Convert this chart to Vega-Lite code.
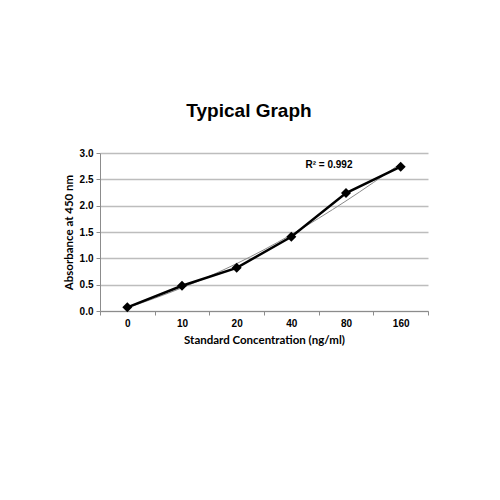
{
  "$schema": "https://vega.github.io/schema/vega-lite/v6.json",
  "autosize": "none",
  "padding": {"left": 100, "top": 153, "right": 72, "bottom": 189},
  "width": 328,
  "height": 158,
  "title": {
    "text": "Typical Graph",
    "font": "Liberation Sans",
    "fontSize": 19,
    "fontWeight": "bold",
    "color": "#000000",
    "frame": "group",
    "baseline": "alphabetic",
    "offset": 12,
    "dx": -15
  },
  "datasets": {
    "standards": [
      {"conc": "0", "absorbance": 0.07, "fit": 0.06},
      {"conc": "10", "absorbance": 0.48, "fit": 0.44},
      {"conc": "20", "absorbance": 0.82, "fit": 0.9},
      {"conc": "40", "absorbance": 1.41, "fit": 1.45},
      {"conc": "80", "absorbance": 2.24, "fit": 2.09},
      {"conc": "160", "absorbance": 2.74, "fit": 2.8}
    ],
    "note": [
      {"label": "R² = 0.992"}
    ]
  },
  "data": {"name": "standards"},
  "encoding": {
    "x": {
      "field": "conc",
      "type": "ordinal",
      "sort": null,
      "scale": {"paddingInner": 0, "paddingOuter": 0},
      "axis": {
        "title": "Standard Concentration (ng/ml)",
        "labelAngle": 0,
        "tickBand": "extent",
        "grid": false,
        "titlePadding": 6
      }
    }
  },
  "layer": [
    {
      "mark": {"type": "line", "color": "#8a8a8a", "strokeWidth": 1, "interpolate": "monotone"},
      "encoding": {
        "y": {
          "field": "fit",
          "type": "quantitative",
          "scale": {"domain": [0, 3]},
          "axis": {"title": "Absorbance at 450 nm"}
        }
      }
    },
    {
      "mark": {"type": "line", "color": "#000000", "strokeWidth": 2.5},
      "encoding": {
        "y": {"field": "absorbance", "type": "quantitative"}
      }
    },
    {
      "mark": {"type": "point", "shape": "diamond", "filled": true, "color": "#000000", "size": 100, "opacity": 1},
      "encoding": {
        "y": {"field": "absorbance", "type": "quantitative"}
      }
    },
    {
      "data": {"name": "note"},
      "mark": {"type": "text", "font": "Liberation Sans", "fontSize": 10, "fontWeight": "bold", "color": "#000000", "dx": -17},
      "encoding": {
        "x": {"datum": "80"},
        "y": {"datum": 2.77},
        "text": {"field": "label"}
      }
    }
  ],
  "config": {
    "view": {"stroke": null},
    "axis": {
      "labelFont": "Liberation Sans",
      "labelFontSize": 10,
      "labelFontWeight": "bold",
      "labelColor": "#000000",
      "titleFont": "Lato",
      "titleFontSize": 11.5,
      "titleFontWeight": "bold",
      "titleColor": "#000000",
      "domainColor": "#8c8c8c",
      "tickColor": "#8c8c8c",
      "tickSize": 4,
      "labelPadding": 3
    },
    "axisY": {
      "tickCount": 6,
      "format": ".1f",
      "labelOverlap": false,
      "gridColor": "#bdbdbd",
      "gridWidth": 1.5,
      "titlePadding": 5
    }
  }
}
